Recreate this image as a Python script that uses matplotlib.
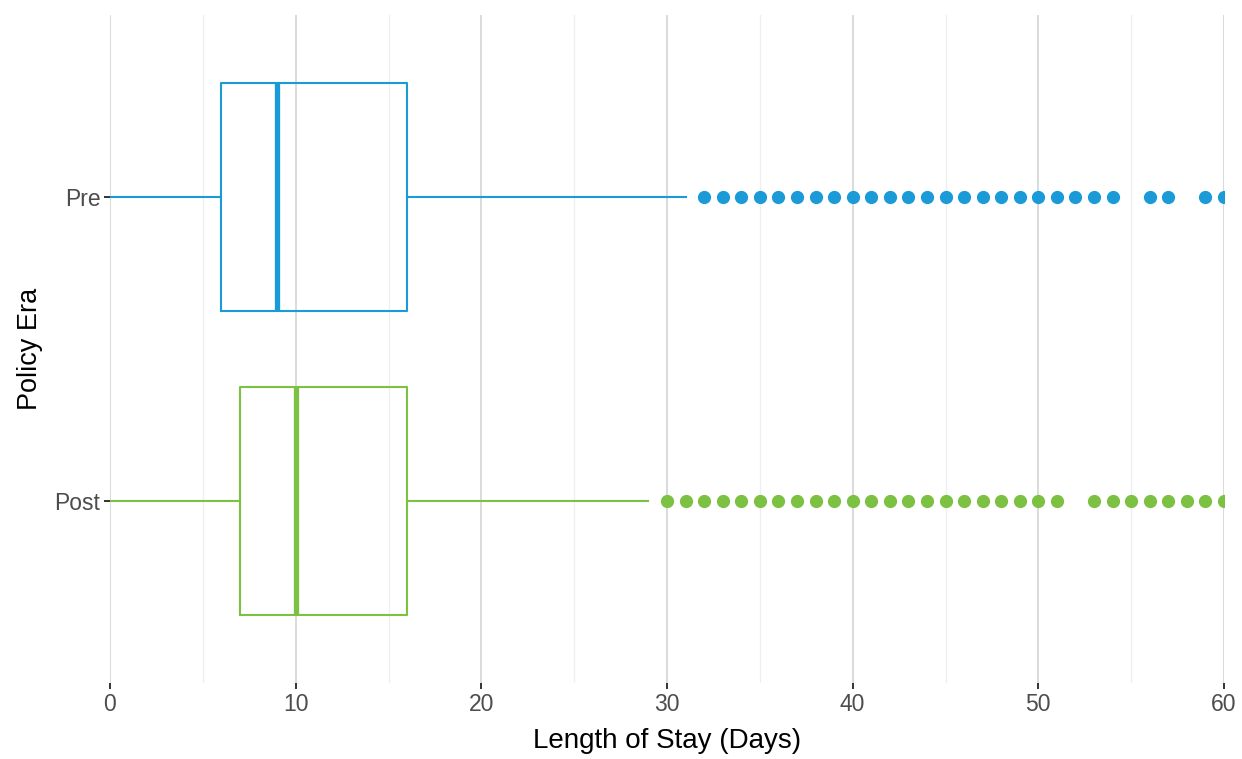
import numpy as np
import matplotlib.pyplot as plt

plt.rcParams['font.family'] = ['Liberation Sans', 'DejaVu Sans']

# Box statistics
eras = ['Pre', 'Post']
whisker_low = [0, 0]
q1 = [6, 7]
median = [9, 10]
q3 = [16, 16]
whisker_high = [31, 29]
outliers_pre = list(range(32, 55)) + [56, 57, 59, 60]
outliers_post = list(range(30, 52)) + list(range(53, 61))
outliers = [outliers_pre, outliers_post]
colors = ['#1a9bd7', '#7cc142']
positions = [2, 1]

fig = plt.figure(figsize=(12.42, 7.59), dpi=100)
ax = fig.add_axes([110 / 1242, (759 - 683) / 759, (1224 - 110) / 1242, (683 - 15) / 759])

for i in range(len(eras)):
    stats = [{
        'whislo': whisker_low[i], 'q1': q1[i], 'med': median[i],
        'q3': q3[i], 'whishi': whisker_high[i], 'fliers': outliers[i],
    }]
    c = colors[i]
    ax.bxp(stats, positions=[positions[i]], vert=False, widths=0.75,
           showcaps=False, patch_artist=False,
           boxprops=dict(color=c, linewidth=1.5),
           whiskerprops=dict(color=c, linewidth=1.5),
           medianprops=dict(color=c, linewidth=3.8, solid_capstyle='butt'),
           flierprops=dict(marker='o', markerfacecolor=c, markeredgecolor=c,
                           markersize=8.5, linestyle='none'),
           manage_ticks=False)

ax.set_xlim(0, 60)
ax.set_ylim(0.4, 2.6)
ax.set_xticks(np.arange(0, 61, 10))
ax.set_xticks(np.arange(5, 60, 10), minor=True)
ax.set_yticks(positions)
ax.set_yticklabels(eras)

ax.grid(axis='x', which='major', color='#dadada', linewidth=1.4, zorder=0)
ax.grid(axis='x', which='minor', color='#efefef', linewidth=0.9, zorder=0)
ax.set_axisbelow(True)
for s in ax.spines.values():
    s.set_visible(False)

ax.tick_params(axis='both', which='major', length=4, width=1.4, color='#333333',
               labelsize=16.5, labelcolor='#4d4d4d', pad=3)
ax.tick_params(axis='x', which='minor', length=0)

ax.set_xlabel('Length of Stay (Days)', fontsize=20, color='black', labelpad=9)
ax.set_ylabel('Policy Era', fontsize=19.5, color='black', labelpad=8)

fig.savefig('out.png', dpi=100)
